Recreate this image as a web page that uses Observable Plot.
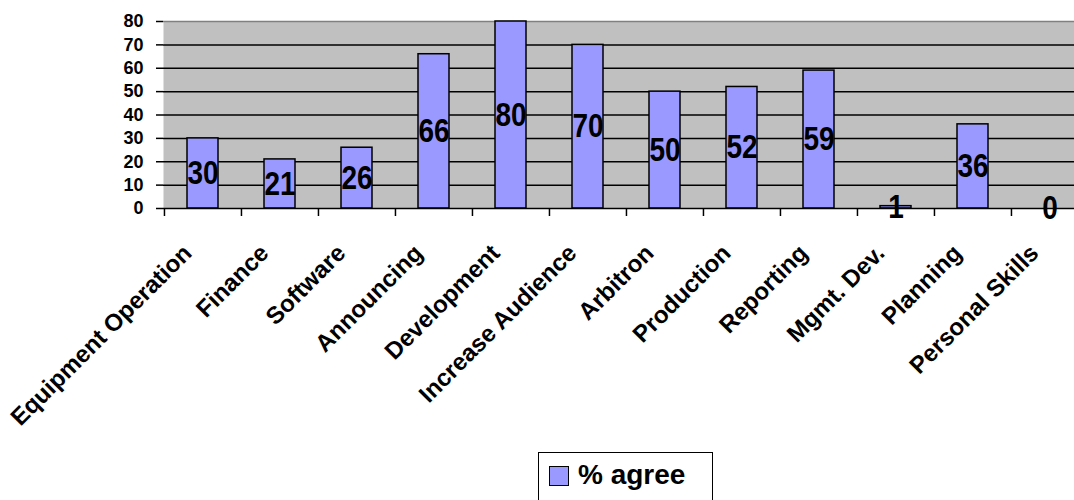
<!DOCTYPE html>
<html>
<head>
<meta charset="utf-8">
<script src="https://cdn.jsdelivr.net/npm/d3@7"></script>
<script src="https://cdn.jsdelivr.net/npm/@observablehq/plot@0.6"></script>
<style>
html, body { margin: 0; padding: 0; background: #fff; width: 1074px; height: 500px; overflow: hidden; position: relative; }
#chart svg { display: block; overflow: hidden; }
.legend { position: absolute; left: 538px; top: 452px; width: 175px; height: 70px; border: 1.5px solid #000; box-sizing: border-box; background: #fff; font-family: "Liberation Sans", Arial, sans-serif; font-weight: bold; }
.legend .sw { position: absolute; left: 10px; top: 13px; width: 20px; height: 20px; background: #9999ff; border: 1.5px solid #000; box-sizing: border-box; }
.legend .lab { position: absolute; left: 39px; top: 6px; font-size: 28px; line-height: 32px; color: #000; white-space: nowrap; }
</style>
</head>
<body>
<div id="chart"></div>
<div class="legend"><div class="sw"></div><div class="lab">% agree</div></div>
<script>
const categories = ["Equipment Operation", "Finance", "Software", "Announcing", "Development", "Increase Audience", "Arbitron", "Production", "Reporting", "Mgmt. Dev.", "Planning", "Personal Skills"];
const values = [30, 21, 26, 66, 80, 70, 50, 52, 59, 1, 36, 0];
const valueLabels = ["30", "21", "26", "66", "80", "70", "50", "52", "59", "1", "36", "0"];
const yTicks = [0, 10, 20, 30, 40, 50, 60, 70, 80];
const seriesName = "% agree";

const data = categories.map((c, i) => ({category: c, value: values[i], label: valueLabels[i]}));

const font = "'Liberation Sans', Arial, sans-serif";
const chart = Plot.plot({
  width: 1074,
  height: 450,
  marginLeft: 163,
  marginRight: -14,
  marginTop: 21,
  marginBottom: 242,
  style: {fontFamily: font, fontWeight: "bold", background: "transparent", color: "#000"},
  x: {domain: categories, paddingInner: 0.6, paddingOuter: 0.3},
  y: {domain: [0, 80]},
  marks: [
    Plot.frame({fill: "#c0c0c0"}),
    Plot.ruleY(yTicks.filter(d => d > 0 && d < 80), {stroke: "#000", strokeWidth: 1.5}),
    Plot.ruleY([80], {stroke: "#808080", strokeWidth: 1.5}),
    Plot.barY(data, {x: "category", y: "value", fill: "#9999ff", stroke: "#000", strokeWidth: 1.5}),
    Plot.ruleY([0], {stroke: "#000", strokeWidth: 1.5}),
    Plot.text(data, {x: "category", y: d => d.value / 2, text: "label", fontSize: 28, fontWeight: "bold", fill: "#000"}),
    Plot.axisY({ticks: yTicks, tickSize: 7, tickPadding: 13, fontSize: 18, fontWeight: "bold", label: null, strokeWidth: 1.5}),
    Plot.axisX({text: null, tickSize: 8, dx: -38.54, strokeWidth: 1.5, label: null}),
    Plot.text(categories, {x: d => d, frameAnchor: "bottom", dx: -22, dy: 34, rotate: -45, textAnchor: "end", lineAnchor: "top", fontSize: 24, fontWeight: "bold", fill: "#000"})
  ]
});
// value labels in the reference are drawn slightly taller than the regular face
const valueGroup = chart.querySelector('g[aria-label="text"]');
if (valueGroup) {
  valueGroup.querySelectorAll("text").forEach(t => {
    const tr = t.getAttribute("transform") || "";
    t.setAttribute("transform", tr + " scale(1,1.18)");
  });
}
document.getElementById("chart").appendChild(chart);
</script>
</body>
</html>
